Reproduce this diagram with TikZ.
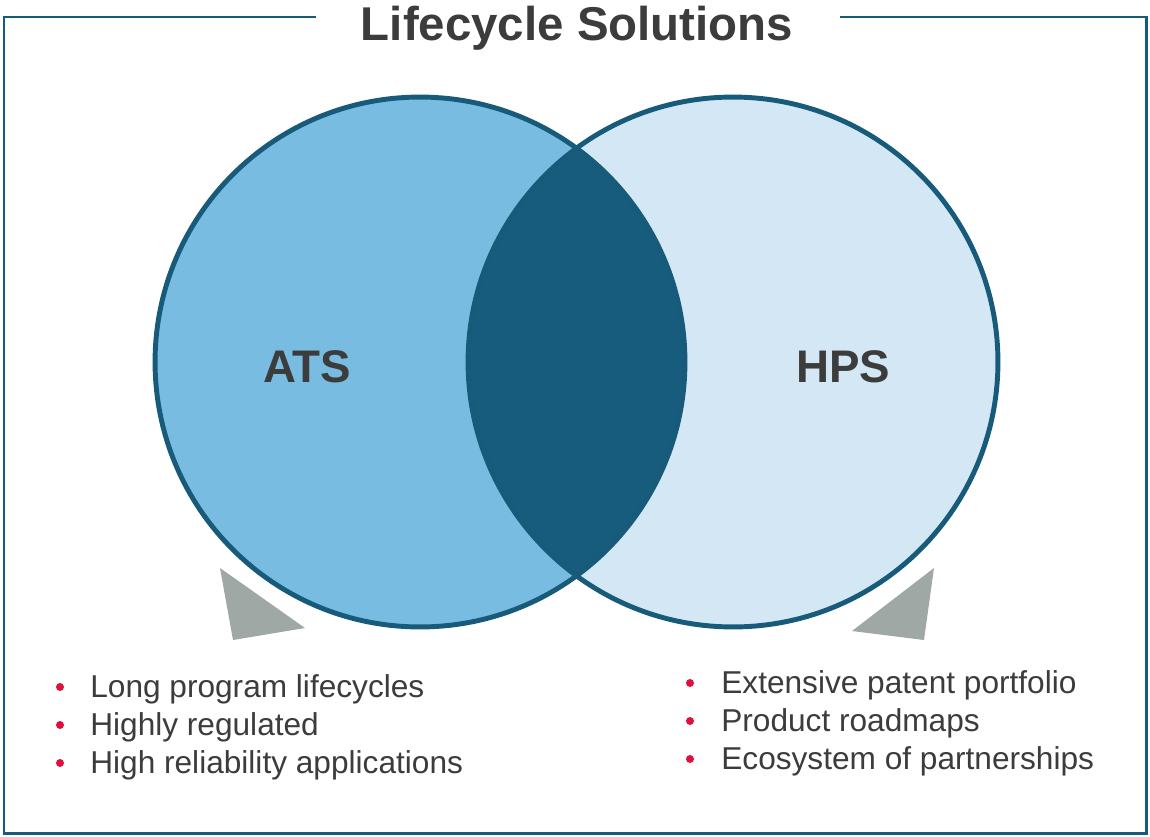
\documentclass[tikz,border=0pt]{standalone}
\usepackage{fontspec}
\setmainfont{Liberation Sans}
\usepackage{xcolor}
\usetikzlibrary{positioning, calc}

\definecolor{ringblue}{HTML}{175A7A}
\definecolor{atsblue}{HTML}{79BCE2}
\definecolor{hpsblue}{HTML}{D4E7F4}
\definecolor{overlapblue}{HTML}{175C7C}
\definecolor{pointergray}{HTML}{A0A8A5}
\definecolor{textgray}{HTML}{3C3C3C}
\definecolor{bulletred}{HTML}{E0103C}

\begin{document}
\begin{tikzpicture}[x=0.02cm, y=-0.02cm,
    ring/.style={draw=ringblue, line width=2.8pt},
    frame/.style={draw=ringblue, line width=1.7pt},
    setname/.style={font=\bfseries\fontsize{26}{30}\selectfont, text=textgray, anchor=base, inner sep=0pt},
    itemtext/.style={font=\fontsize{18}{22}\selectfont, text=textgray, anchor=base west, inner sep=0pt}]
      \useasboundingbox (0,0) rectangle (1150,836);

      % frame with the title in its gap
      \node[font=\bfseries\fontsize{27}{32}\selectfont, text=textgray, anchor=base, inner sep=0pt] (title) at (577,40) {Lifecycle Solutions};
      \draw[frame] (316,17) -- (4,17) -- (4,833) -- (1146,833) -- (1146,17) -- (840,17);

      \fill[atsblue] (420,362) circle (5.3cm);
      \fill[hpsblue] (733,362) circle (5.3cm);
      \begin{scope}
        \clip (420,362) circle (5.3cm);
        \fill[overlapblue] (733,362) circle (5.3cm);
      \end{scope}
      \draw[ring] (420,362) circle (5.3cm);
      \draw[ring] (733,362) circle (5.3cm);

      \node[setname] (ats) at (307,382) {ATS};
      \node[setname] (hps) at (843,382) {HPS};

      \fill[pointergray] (220,568) -- (305,628) -- (233,640) -- cycle;
      \fill[pointergray] (934,568) -- (852,631) -- (924,640) -- cycle;

      \foreach \t [count=\i] in {Long program lifecycles, Highly regulated, High reliability applications} {
        \node[itemtext] (ats\i) at (90, 659+38*\i) {\t};
        \fill[bulletred] ($(ats\i.base west)+(-30,-10)$) circle (0.08cm);
      }
      \foreach \t [count=\i] in {Extensive patent portfolio, Product roadmaps, Ecosystem of partnerships} {
        \node[itemtext] (hps\i) at (721, 655+38*\i) {\t};
        \fill[bulletred] ($(hps\i.base west)+(-31,-10)$) circle (0.08cm);
      }
    \end{tikzpicture}
\end{document}
